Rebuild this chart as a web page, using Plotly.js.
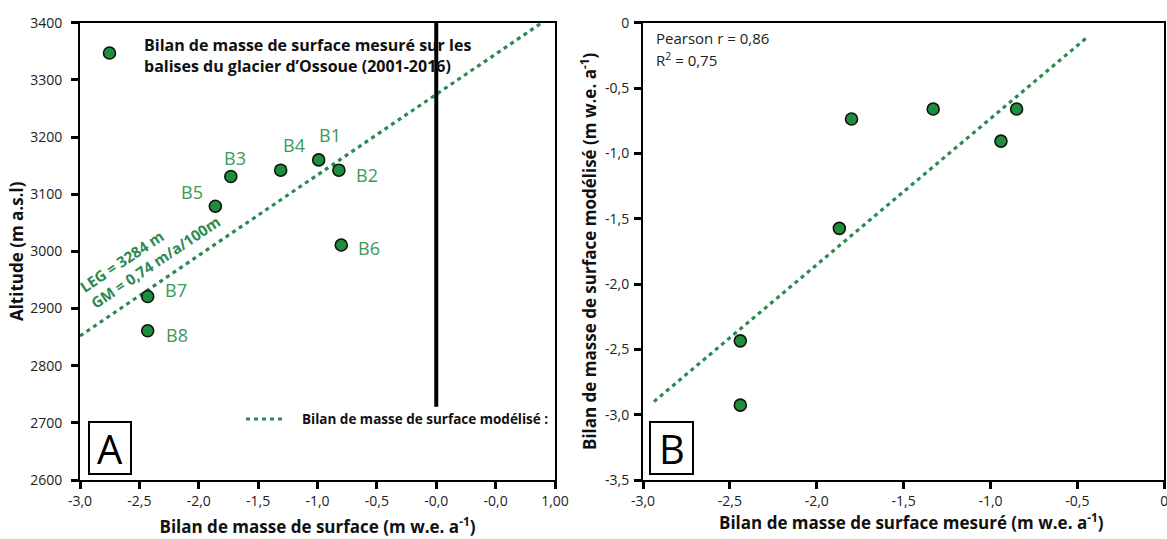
<!DOCTYPE html>
<html><head><meta charset="utf-8">
<script src="https://cdn.plot.ly/plotly-3.0.1.min.js"></script>
<style>html,body{margin:0;padding:0;background:#fff}#chart{width:1167px;height:539px}</style>
</head><body><div id="chart"></div>
<script>
// ---- Data (panel A) ----
const stakes = ['B1','B2','B3','B4','B5','B6','B7','B8'];
const measuredA = [-0.99, -0.82, -1.73, -1.31, -1.86, -0.80, -2.43, -2.43];
const altitudeA = [3160, 3142, 3131, 3142, 3079, 3011, 2921, 2861];
const modelLineX = [-3.0, 0.89];
const modelLineAlt = [2852, 3400];
const elaLineX = [0, 0];
const elaLineAlt = [2728, 3400];
const xTickValsA = [-3, -2.5, -2, -1.5, -1, -0.5, 0, 0.5, 1];
const xTickTextA = ['-3,0','-2,5','-2,0','-1,5','-1,0','-0,5','-0,0','-0,0','1,00'];
const yTickValsA = [2600,2700,2800,2900,3000,3100,3200,3300,3400];

// ---- Data (panel B) ----
const measuredB = [-1.80, -1.33, -0.85, -0.94, -1.87, -2.44, -2.44];
const modelledB = [-0.737, -0.661, -0.661, -0.906, -1.574, -2.435, -2.927];
const fitX = [-2.937, -0.447];
const fitY = [-2.90, -0.115];
const xTickValsB = [-3, -2.5, -2, -1.5, -1, -0.5, 0];
const xTickTextB = ['-3,0','-2,5','-2,0','-1,5','-1,0','-0,5','0'];
const yTickValsB = [-3.5, -3, -2.5, -2, -1.5, -1, -0.5, 0];
const yTickTextB = ['-3,5','-3,0','-2,5','-2,0','-1,5','-1,0','-0,5','0'];

// ---- Styles ----
const W = 1167, H = 539;
const px = x => x / W, py = y => 1 - y / H;
const FONT = 'Open Sans, sans-serif';
const markerGreen = '#1c8e3e';
const labelGreen = '#3b9a57';
const lineGreen = '#2a8a52';
const markerStyle = {size: 12, color: markerGreen, line: {color: '#111', width: 1.6}};
const dotDash = '4px,4px';

const traces = [
  {x: modelLineX, y: modelLineAlt, xaxis: 'x', yaxis: 'y', mode: 'lines',
   line: {color: lineGreen, width: 3.2, dash: dotDash}, hoverinfo: 'skip'},
  {x: elaLineX, y: elaLineAlt, xaxis: 'x', yaxis: 'y', mode: 'lines',
   line: {color: '#000', width: 4}, hoverinfo: 'skip'},
  {x: measuredA, y: altitudeA, text: stakes, xaxis: 'x', yaxis: 'y', mode: 'markers',
   marker: markerStyle},
  {x: fitX, y: fitY, xaxis: 'x2', yaxis: 'y2', mode: 'lines',
   line: {color: lineGreen, width: 3.2, dash: dotDash}, hoverinfo: 'skip'},
  {x: measuredB, y: modelledB, xaxis: 'x2', yaxis: 'y2', mode: 'markers',
   marker: markerStyle}
];

const labelShift = {
  B1: [11, 25], B2: [28, -5], B3: [4, 18], B4: [13, 25],
  B5: [-23, 14], B6: [28, -3], B7: [28, 7], B8: [29, -4]
};

const axisCommon = {
  showline: true, mirror: true, linecolor: '#000', linewidth: 2,
  ticks: 'outside', ticklen: 7, tickwidth: 3, tickcolor: '#000',
  showgrid: false, zeroline: false, fixedrange: true, ticklabeloverflow: 'allow',
  tickfont: {family: FONT, size: 14, color: '#222'}
};
const titleFont = {family: FONT, size: 17, color: '#111'};

const annotations = [];
stakes.forEach((s, i) => {
  annotations.push({
    xref: 'x', yref: 'y', x: measuredA[i], y: altitudeA[i], text: s,
    showarrow: false, xshift: labelShift[s][0], yshift: labelShift[s][1],
    font: {family: FONT, size: 18, color: labelGreen}
  });
});
annotations.push(
  {xref: 'paper', yref: 'paper', x: px(142), y: py(55), xanchor: 'left', yanchor: 'middle', align: 'left',
   showarrow: false, text: '<b>Bilan de masse de surface mesuré sur les<br>balises du glacier d’Ossoue (2001-2016)</b>',
   font: {family: FONT, size: 16, color: '#111'}},
  {xref: 'paper', yref: 'paper', x: px(300), y: py(419), xanchor: 'left', yanchor: 'middle',
   showarrow: false, text: '<b>Bilan de masse de surface modélisé :</b>',
   font: {family: FONT, size: 13.5, color: '#111'}},
  {xref: 'paper', yref: 'paper', x: px(150), y: py(254), xanchor: 'center', yanchor: 'middle', align: 'left',
   showarrow: false, textangle: -34, text: '<b>LEG = 3284 m<br>GM = 0,74 m/a/100m</b>',
   font: {family: FONT, size: 15, color: lineGreen}},
  {xref: 'paper', yref: 'paper', x: px(110), y: py(448), xanchor: 'center', yanchor: 'middle',
   showarrow: false, text: 'A', font: {family: FONT, size: 40, color: '#000'}},
  {xref: 'paper', yref: 'paper', x: px(671.5), y: py(448), xanchor: 'center', yanchor: 'middle',
   showarrow: false, text: 'B', font: {family: FONT, size: 40, color: '#000'}},
  {xref: 'paper', yref: 'paper', x: px(654), y: py(38), xanchor: 'left', yanchor: 'middle',
   showarrow: false, text: 'Pearson r = 0,86', font: {family: FONT, size: 15, color: '#222'}},
  {xref: 'paper', yref: 'paper', x: px(654), y: py(60), xanchor: 'left', yanchor: 'middle',
   showarrow: false, text: 'R<sup>2</sup> = 0,75', font: {family: FONT, size: 15, color: '#222'}},
  {xref: 'paper', yref: 'paper', x: px(912), y: py(521), xanchor: 'center', yanchor: 'middle',
   showarrow: false, text: '<b>Bilan de masse de surface mesuré (m w.e. a<sup>-1</sup>)</b>', font: titleFont}
);

const shapes = [
  {type: 'circle', xref: 'paper', yref: 'paper', x0: px(103.5), x1: px(115.5), y0: py(59), y1: py(47),
   fillcolor: markerGreen, line: {color: '#111', width: 1.6}},
  {type: 'line', xref: 'paper', yref: 'paper', x0: px(246), x1: px(283), y0: py(419), y1: py(419),
   line: {color: lineGreen, width: 3.2, dash: dotDash}},
  {type: 'rect', xref: 'paper', yref: 'paper', x0: px(89), x1: px(131), y0: py(474), y1: py(422),
   line: {color: '#000', width: 2}},
  {type: 'rect', xref: 'paper', yref: 'paper', x0: px(650), x1: px(693), y0: py(474), y1: py(422),
   line: {color: '#000', width: 2}}
];

const layout = {
  width: W, height: H, margin: {l: 0, r: 0, t: 0, b: 0},
  paper_bgcolor: '#fff', plot_bgcolor: '#fff', showlegend: false,
  font: {family: FONT},
  xaxis: Object.assign({}, axisCommon, {
    domain: [px(80), px(555)], range: [-3, 1], anchor: 'y',
    tickmode: 'array', tickvals: xTickValsA, ticktext: xTickTextA,
    title: {text: '<b>Bilan de masse de surface (m w.e. a<sup>-1</sup>)</b>', font: titleFont, standoff: 12}
  }),
  yaxis: Object.assign({}, axisCommon, {
    domain: [py(480), py(22.7)], range: [2600, 3400], anchor: 'x',
    tickmode: 'array', tickvals: yTickValsA, ticklabelstandoff: 6,
    title: {text: '<b>Altitude (m a.s.l)</b>', font: titleFont, standoff: 2}
  }),
  xaxis2: Object.assign({}, axisCommon, {
    domain: [px(643), px(1164.3)], range: [-3, 0], anchor: 'y2',
    tickmode: 'array', tickvals: xTickValsB, ticktext: xTickTextB
  }),
  yaxis2: Object.assign({}, axisCommon, {
    domain: [py(480), py(22.7)], range: [-3.5, 0], anchor: 'x2',
    tickmode: 'array', tickvals: yTickValsB, ticktext: yTickTextB, ticklabelstandoff: 2,
    title: {text: '<b>Bilan de masse de surface modélisé (m w.e. a<sup>-1</sup>)</b>', font: titleFont, standoff: 4}
  }),
  annotations: annotations,
  shapes: shapes
};

Plotly.newPlot('chart', traces, layout, {staticPlot: true, displayModeBar: false});
</script>
</body></html>
